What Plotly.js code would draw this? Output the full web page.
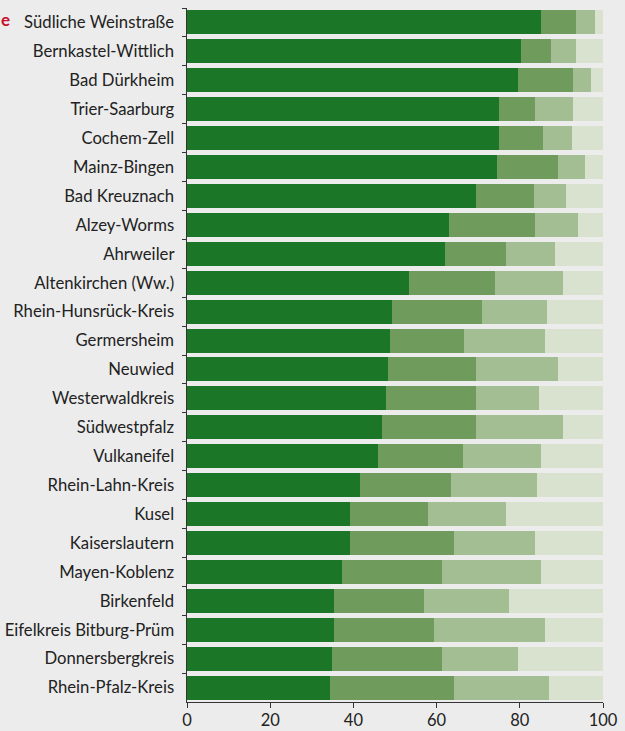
<!DOCTYPE html>
<html>
<head>
<meta charset="utf-8">
<script src="https://cdn.plot.ly/plotly-3.0.1.min.js"></script>
<style>html,body{margin:0;padding:0;background:#ececec;}#chart{width:625px;height:731px;}</style>
</head>
<body>
<div id="chart"></div>
<script>
const categories = ["Südliche Weinstraße","Bernkastel-Wittlich","Bad Dürkheim","Trier-Saarburg","Cochem-Zell","Mainz-Bingen","Bad Kreuznach","Alzey-Worms","Ahrweiler","Altenkirchen (Ww.)","Rhein-Hunsrück-Kreis","Germersheim","Neuwied","Westerwaldkreis","Südwestpfalz","Vulkaneifel","Rhein-Lahn-Kreis","Kusel","Kaiserslautern","Mayen-Koblenz","Birkenfeld","Eifelkreis Bitburg-Prüm","Donnersbergkreis","Rhein-Pfalz-Kreis"];
const series1 = [85.0,80.4,79.5,74.9,74.9,74.4,69.4,62.9,61.9,53.3,49.2,48.7,48.2,47.8,46.8,45.8,41.7,39.1,39.3,37.2,35.3,35.3,34.8,34.3];
const series2 = [8.4,7.0,13.4,8.7,10.6,14.9,13.9,20.7,14.9,20.7,21.6,18.0,21.2,21.6,22.6,20.5,21.7,18.8,25.0,24.0,21.6,24.0,26.4,30.0];
const series3 = [4.6,6.0,4.1,9.3,7.0,6.3,7.7,10.3,11.6,16.5,15.7,19.3,19.7,15.1,21.1,18.7,20.7,18.9,19.3,23.8,20.4,26.7,18.3,22.6];
const series4 = [2.0,6.6,3.0,7.1,7.5,4.4,9.0,6.1,11.6,9.5,13.5,14.0,10.9,15.5,9.5,15.0,15.9,23.2,16.4,15.0,22.7,14.0,20.5,13.1];
const xTicks = [0,20,40,60,80,100];

const colors = ["#1c7628","#6f9b5c","#a4be94","#d9e1cf"];
const allSeries = [series1,series2,series3,series4];
const traces = allSeries.map((vals,i)=>({
  type:"bar", orientation:"h", x:vals, y:categories,
  marker:{color:colors[i], line:{width:0}}, hoverinfo:"skip", showlegend:false
}));

const W = 625, L = 187, R = 22;
const layout = {
  width:W, height:731,
  margin:{l:L, r:R, t:8, b:29, pad:0},
  paper_bgcolor:"#ececec", plot_bgcolor:"#ececec",
  barmode:"stack", bargap:0.17,
  font:{family:"Lato, 'Noto Sans', sans-serif", size:16.7, color:"#222"},
  xaxis:{range:[0,100], tickvals:xTicks, ticks:"outside", ticklen:5, tickcolor:"#333",
         showline:true, linecolor:"#333", linewidth:1, showgrid:false, zeroline:false,
         tickfont:{size:16.5, color:"#222"}, ticklabelstandoff:-2},
  yaxis:{type:"category", autorange:"reversed", ticks:"outside", tickson:"boundaries",
         ticklen:4, tickcolor:"#333", showline:true, linecolor:"#333", linewidth:1,
         showgrid:false, zeroline:false, tickfont:{size:16.7, color:"#222"}, ticksuffix:"  "},
  annotations:[{text:"<b>e</b>", xref:"paper", yref:"paper", x:-(L)/(W-L-R), y:1.0,
    xanchor:"left", yanchor:"top", showarrow:false, borderpad:0,
    font:{size:17, color:"#c8102e"}}]
};
Plotly.newPlot("chart", traces, layout, {displayModeBar:false, staticPlot:true});
</script>
</body>
</html>
